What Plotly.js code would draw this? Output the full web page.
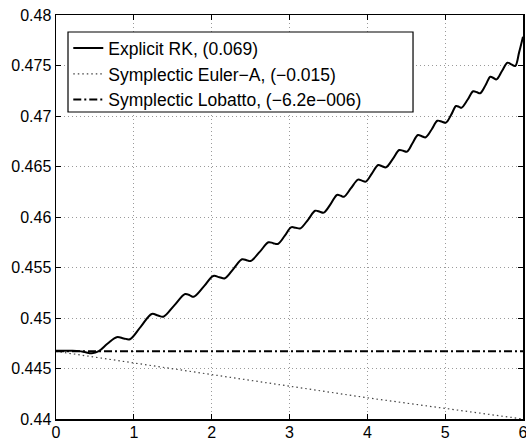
<!DOCTYPE html>
<html>
<head>
<meta charset="utf-8">
<script src="https://cdn.plot.ly/plotly-3.0.1.min.js"></script>
<style>html,body{margin:0;padding:0;background:#fff;}#chart{width:526px;height:440px;}</style>
</head>
<body>
<div id="chart"></div>
<script>
// Explicit RK energy curve
var rkT = [0, 0.1, 0.2, 0.3, 0.38, 0.46, 0.55, 0.66, 0.78, 0.87, 0.95, 1.09, 1.23, 1.31, 1.38, 1.52, 1.66, 1.72, 1.77, 1.90,
  2.02, 2.10, 2.17, 2.28, 2.39, 2.45, 2.50, 2.62, 2.73, 2.79, 2.85, 2.94, 3.02, 3.08, 3.14, 3.24, 3.33, 3.39, 3.44, 3.53,
  3.61, 3.66, 3.70, 3.79, 3.88, 3.93, 3.98, 4.06, 4.14, 4.19, 4.24, 4.33, 4.41, 4.46, 4.51, 4.58, 4.65, 4.70, 4.75, 4.83,
  4.90, 4.96, 5.01, 5.08, 5.14, 5.18, 5.21, 5.29, 5.36, 5.41, 5.45, 5.52, 5.58, 5.62, 5.66, 5.73, 5.80, 5.85, 5.90, 5.95, 6.0];
var rkE = [0.44676, 0.44676, 0.44676, 0.44672, 0.44660, 0.44650, 0.44672, 0.44745, 0.44810, 0.44798, 0.44790, 0.44915, 0.45040, 0.45025, 0.45013, 0.45125, 0.45238, 0.45224, 0.45211, 0.45313,
  0.45416, 0.45404, 0.45393, 0.45487, 0.45581, 0.45572, 0.45564, 0.45657, 0.45750, 0.45741, 0.45733, 0.45815, 0.45898, 0.45893, 0.45888, 0.45975, 0.46062, 0.46052, 0.46043, 0.46130,
  0.46218, 0.46210, 0.46201, 0.46285, 0.46370, 0.46360, 0.46350, 0.46432, 0.46515, 0.46503, 0.46492, 0.46577, 0.46663, 0.46655, 0.46647, 0.46730, 0.46812, 0.46800, 0.46789, 0.46871,
  0.46953, 0.46943, 0.46934, 0.47016, 0.47099, 0.47090, 0.47082, 0.47163, 0.47245, 0.47235, 0.47225, 0.47307, 0.47389, 0.47376, 0.47363, 0.47445, 0.47528, 0.47511, 0.47495, 0.47630, 0.47785];

// Symplectic Euler-A energy
var eulerT = [0, 1, 2, 3, 4, 5, 6];
var eulerE = [0.4467, 0.44555, 0.4444, 0.44325, 0.4421, 0.44105, 0.4400];

// Symplectic Lobatto energy
var lobT = [0, 1, 2, 3, 4, 5, 6];
var lobE = [0.44670, 0.44670, 0.44670, 0.44670, 0.44670, 0.44670, 0.44670];

var seriesNames = ['Explicit RK, (0.069)', 'Symplectic Euler\u2212A, (\u22120.015)', 'Symplectic Lobatto, (\u22126.2e\u2212006)'];

var xTickVals = [0, 1, 2, 3, 4, 5, 6];
var xTickText = ['0', '1', '2', '3', '4', '5', '6'];
var yTickVals = [0.44, 0.445, 0.45, 0.455, 0.46, 0.465, 0.47, 0.475, 0.48];
var yTickText = ['0.44', '0.445', '0.45', '0.455', '0.46', '0.465', '0.47', '0.475', '0.48'];

var FONT = 'Liberation Sans, Arial, Helvetica, sans-serif';

var traces = [
  {x: rkT, y: rkE, name: seriesNames[0], mode: 'lines',
   line: {color: '#000', width: 2, shape: 'spline', smoothing: 1}},
  {x: eulerT, y: eulerE, name: seriesNames[1], mode: 'lines',
   line: {color: '#444', width: 1.2, dash: '1.5px,3px'}},
  {x: lobT, y: lobE, name: seriesNames[2], mode: 'lines',
   line: {color: '#000', width: 2, dash: '8px,3px,2px,3px'}}
];

var axisCommon = {
  showline: true, linecolor: '#000', linewidth: 1.5, mirror: 'ticks',
  ticks: 'inside', ticklen: 5, tickwidth: 1, tickcolor: '#000',
  showgrid: true, gridcolor: '#9a9a9a', gridwidth: 1, griddash: '1px,3px',
  zeroline: false, automargin: false, ticklabeloverflow: 'allow',
  tickfont: {family: FONT, size: 16, color: '#000'}
};

var layout = {
  width: 526, height: 440,
  margin: {l: 56, r: 3, t: 15, b: 21},
  paper_bgcolor: '#fff', plot_bgcolor: '#fff',
  font: {family: FONT, size: 16, color: '#000'},
  xaxis: Object.assign({}, axisCommon, {range: [0, 6], tickmode: 'array', tickvals: xTickVals, ticktext: xTickText, ticklabelstandoff: -2}),
  yaxis: Object.assign({}, axisCommon, {range: [0.44, 0.48], tickmode: 'array', tickvals: yTickVals, ticktext: yTickText}),
  showlegend: true,
  legend: {
    x: 0.0263, y: 0.9625, xanchor: 'left', yanchor: 'top',
    bgcolor: 'rgba(0,0,0,0)', borderwidth: 0,
    font: {family: FONT, size: 17.5, color: '#000'}
  },
  shapes: [
    {type: 'rect', xref: 'paper', yref: 'paper', layer: 'above',
     x0: 0.0257, x1: 0.7645, y0: 0.7599, y1: 0.9579,
     line: {color: '#000', width: 1.2}, fillcolor: '#fff'}
  ]
};

Plotly.newPlot('chart', traces, layout, {staticPlot: true, displayModeBar: false});
</script>
</body>
</html>
